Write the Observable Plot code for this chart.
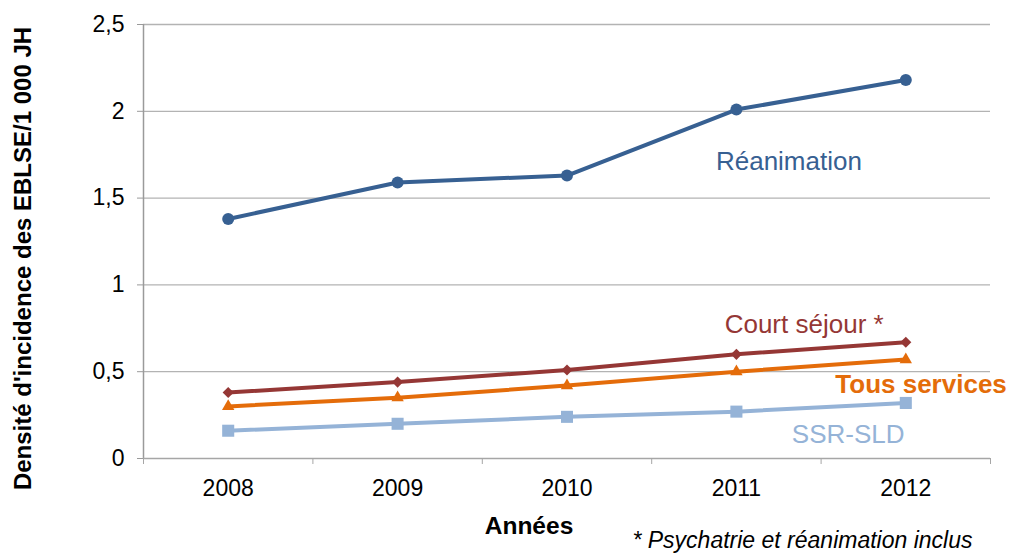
<!DOCTYPE html>
<html><head><meta charset="utf-8">
<script src="https://cdn.jsdelivr.net/npm/d3@7"></script>
<script src="https://cdn.jsdelivr.net/npm/@observablehq/plot@0.6"></script>
<style>body{margin:0;background:#fff;} svg{display:block}</style>
</head><body><div id="chart"></div>
<script>
const years = [2008, 2009, 2010, 2011, 2012];
const reanimation = [1.38, 1.59, 1.63, 2.01, 2.18];
const courtSejour = [0.38, 0.44, 0.51, 0.60, 0.67];
const tousServices = [0.30, 0.35, 0.42, 0.50, 0.57];
const ssrSld = [0.16, 0.20, 0.24, 0.27, 0.32];
const seriesNames = ["Réanimation", "Court séjour *", "Tous services", "SSR-SLD"];
const seriesValues = [reanimation, courtSejour, tousServices, ssrSld];
const seriesColors = ["#376092", "#953735", "#E46C0A", "#95B3D7"];
const seriesSymbols = ["circle", "diamond2", "triangle", "square"];
const seriesR = [6, 5, 4.6, 6.8];
const yTicks = [0, 0.5, 1, 1.5, 2, 2.5];
const labelX = [2011.31, 2011.40, 2012.09, 2011.66];
const labelY = [1.71, 0.77, 0.426, 0.138];
const labelBold = [false, false, true, false];
const yTitle = "Densité d'incidence des EBLSE/1 000 JH";
const xTitle = "Années";
const footnote = "* Psychatrie et réanimation inclus";

const rows = seriesNames.flatMap((s, i) => years.map((yr, j) => ({series: s, year: yr, value: seriesValues[i][j], idx: i})));
const boundaries = [years[0] - 0.5, ...years.map(y => y + 0.5)];
const labels = seriesNames.map((s, i) => ({name: s, x: labelX[i], y: labelY[i], bold: labelBold[i], color: seriesColors[i]}));

const font = "'Liberation Sans', Arial, sans-serif";
const marks = [
  Plot.gridY(yTicks.filter(d => d > 0), {stroke: "#b3b3b3", strokeOpacity: 1, strokeWidth: 1.3}),
  Plot.ruleX([boundaries[0]], {stroke: "#9a9a9a", strokeWidth: 1.5}),
  Plot.ruleY([0], {stroke: "#a6a6a6", strokeWidth: 1.5}),
  Plot.axisY({ticks: yTicks, tickSize: 6, tickPadding: 13, stroke: "#9a9a9a", fill: "#000", fontSize: 23,
    tickFormat: d => String(d).replace(".", ","), label: null}),
  Plot.axisX({ticks: years, tickSize: 0, tickPadding: 21, fill: "#000", fontSize: 23, tickFormat: d => String(d), label: null}),
  Plot.axisX({ticks: boundaries, tickSize: 6, stroke: "#a6a6a6", tickFormat: () => "", label: null}),
];
seriesNames.forEach((s, i) => {
  const data = rows.filter(r => r.idx === i);
  marks.push(Plot.line(data, {x: "year", y: "value", stroke: seriesColors[i], strokeWidth: 4}));
});
seriesNames.forEach((s, i) => {
  const data = rows.filter(r => r.idx === i);
  marks.push(Plot.dot(data, {x: "year", y: "value", symbol: seriesSymbols[i], r: seriesR[i], fill: seriesColors[i], stroke: "none"}));
});
marks.push(
  Plot.text(labels.filter(d => !d.bold), {x: "x", y: "y", text: "name", fill: "color", fontSize: 26, textAnchor: "middle", lineAnchor: "middle"}),
  Plot.text(labels.filter(d => d.bold), {x: "x", y: "y", text: "name", fill: "color", fontSize: 26, fontWeight: "bold", textAnchor: "middle", lineAnchor: "middle"}),
  Plot.text([yTitle], {frameAnchor: "left", rotate: -90, dx: -120, dy: 17, fontSize: 24, fontWeight: "bold", fill: "#000", textAnchor: "middle", lineAnchor: "middle"}),
  Plot.text([xTitle], {frameAnchor: "bottom", dx: -38, dy: 75, fontSize: 24.5, fontWeight: "bold", fill: "#000", textAnchor: "middle", lineAnchor: "bottom"}),
  Plot.text([footnote], {frameAnchor: "bottom-right", dx: -18, dy: 89, fontSize: 23, fontStyle: "italic", fill: "#000", textAnchor: "end", lineAnchor: "bottom"})
);

const chart = Plot.plot({
  width: 1013, height: 554,
  marginLeft: 143, marginRight: 23, marginTop: 24, marginBottom: 96,
  style: {fontFamily: font, fontSize: "23px", background: "#fff", overflow: "visible"},
  x: {type: "linear", domain: [boundaries[0], boundaries[boundaries.length - 1]]},
  y: {domain: [0, 2.5]},
  marks
});
document.getElementById("chart").appendChild(chart);
</script></body></html>
